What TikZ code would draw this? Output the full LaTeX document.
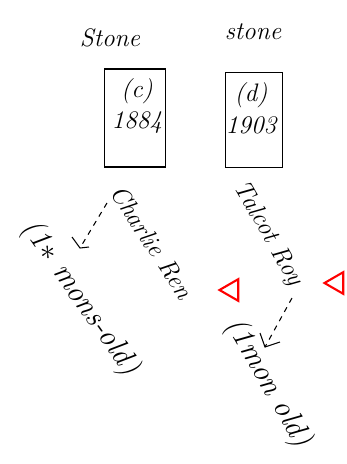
\documentclass[tikz,border=0pt]{standalone}
\usetikzlibrary{arrows,shapes,shapes.geometric}

\begin{document}
\begin{tikzpicture}[x=0.02cm,y=-0.02cm,semithick,font=\itshape]
                \useasboundingbox[fill=white](0,0) rectangle (347,464);
                \tikzset{stone/.style={draw=black,thick,minimum width=1.22cm,minimum height=1.96cm},
                         child/.style={font=\Large\itshape,inner sep=1pt},
                         marker/.style={draw=red,line width=1.2pt,shape=regular polygon,regular polygon sides=3,shape border rotate=90,minimum size=0.5cm,inner sep=0pt}}
                \node[style={},font=\Large\itshape](Stone1)at(110, 38){Stone};
                \node[style={},font=\Large\itshape](Stone2)at(253, 32){stone};
                \node[stone](c)at(135, 118){};
                \node[stone,minimum width=1.14cm,minimum height=1.9cm](d)at(254, 120){};
                \node[align=center,font=\Large\itshape](cyear)at(137, 106){(c)\\1884};
                \node[align=center,font=\Large\itshape](dyear)at(251, 108){(d)\\1903};
                \node[child,rotate=-57](Charlie)at(152, 242){Charlie Ren};
                \node[child,rotate=-60](Talcot)at(268, 234){Talcot Roy};
                \node[child,font=\LARGE\itshape,rotate=-55](Cmons)at(80, 298){(1$\ast$ mons-old)};
                \node[child,font=\LARGE\itshape,rotate=-60](Tmon)at(268, 383){(1mon old)};
                \node[marker](m1)at(232, 290){};
                \node[marker](m2)at(337, 283){};
                \coordinate(ctop)at(107, 203);
                \coordinate(cend)at(80, 248);
                \coordinate(ttop)at(292, 298);
                \coordinate(tend)at(265, 347);
                \path[dashed](ctop) edge (cend)
                (ttop) edge (tend);
                \draw (72, 237) -- (cend) -- (89, 247);
                \draw (260, 333) -- (tend) -- (280, 342);
            \end{tikzpicture}
\end{document}
